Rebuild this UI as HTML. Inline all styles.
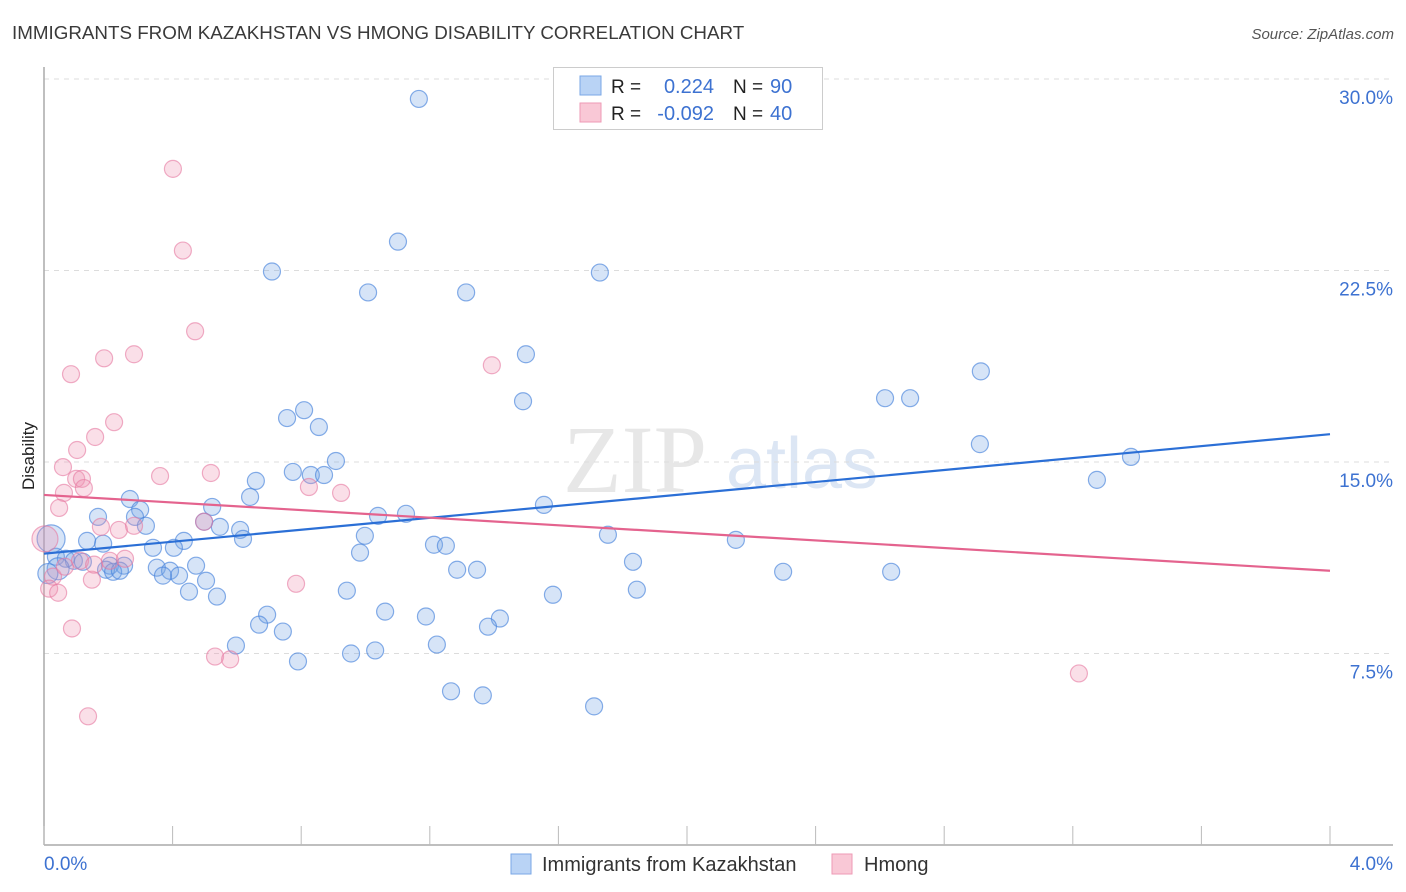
<!DOCTYPE html>
<html><head><meta charset="utf-8"><style>
html,body{margin:0;padding:0;background:#fff;width:1406px;height:892px;overflow:hidden;font-family:"Liberation Sans",sans-serif}
</style></head><body>
<svg id="chart" width="1406" height="892" xmlns="http://www.w3.org/2000/svg" font-family="Liberation Sans, sans-serif">
<text x="12" y="39" font-size="18.8" fill="#3a3a3a">IMMIGRANTS FROM KAZAKHSTAN VS HMONG DISABILITY CORRELATION CHART</text>
<text x="1394" y="39" font-size="15" fill="#555" font-style="italic" text-anchor="end">Source: ZipAtlas.com</text>
<g>
<text x="635" y="492" font-size="96" fill="#d8d8d8" font-family="Liberation Serif, serif" text-anchor="middle" opacity="0.6">ZIP</text>
<text x="802" y="488" font-size="72" fill="#c5d6ee" text-anchor="middle" opacity="0.6">atlas</text>
</g>
<g id="grid"></g>
<g id="axes"></g>
<g id="marks"></g>
<g>
<rect x="553.5" y="67.5" width="269" height="62" fill="#fff" stroke="#ccc"/>
<rect x="580" y="76" width="21" height="19" fill="#b9d3f5" stroke="#7aa7e6"/>
<rect x="580" y="103" width="21" height="19" fill="#f9c8d6" stroke="#ee9ab5"/>
<text x="611" y="93" font-size="19" fill="#222">R =</text>
<text x="714" y="93" font-size="20" fill="#3d72d1" text-anchor="end">0.224</text>
<text x="733" y="93" font-size="19" fill="#222">N =</text>
<text x="770" y="93" font-size="20" fill="#3d72d1">90</text>
<text x="611" y="120" font-size="19" fill="#222">R =</text>
<text x="714" y="120" font-size="20" fill="#3d72d1" text-anchor="end">-0.092</text>
<text x="733" y="120" font-size="19" fill="#222">N =</text>
<text x="770" y="120" font-size="20" fill="#3d72d1">40</text>
</g>
<g>
<rect x="511" y="854" width="20" height="20" fill="#b9d3f5" stroke="#7aa7e6"/>
<text x="542" y="871" font-size="20" fill="#333">Immigrants from Kazakhstan</text>
<rect x="832" y="854" width="20" height="20" fill="#f9c8d6" stroke="#ee9ab5"/>
<text x="864" y="871" font-size="20" fill="#333">Hmong</text>
</g>
<text transform="translate(34,456) rotate(-90)" font-size="17" fill="#222" text-anchor="middle">Disability</text>
</svg>
<script>
const blueX=[1.166,1.101,0.709,1.729,1.008,1.313,1.499,2.914,2.616,2.694,1.490,0.809,0.756,0.855,2.911,3.381,0.908,0.774,0.830,0.871,3.275,0.659,0.641,0.267,1.555,0.523,0.299,0.168,0.283,1.039,1.126,0.498,0.317,0.547,0.610,1.754,0.998,0.619,0.435,0.134,0.184,2.152,1.213,1.250,0.339,0.404,0.983,0.037,0.068,0.093,0.121,0.205,0.249,1.832,0.473,0.351,0.392,1.285,1.347,0.193,0.215,0.236,0.420,0.370,2.299,2.635,0.504,0.942,1.844,1.583,0.451,0.538,1.061,0.694,1.188,1.418,0.669,1.381,0.743,0.597,1.222,0.955,1.030,0.790,1.266,1.365,1.711,0.022,0.044,0.012];
const blueY=[29.22,23.63,22.46,22.42,21.64,21.64,19.22,18.55,17.50,17.50,17.38,17.03,16.72,16.37,15.70,15.20,15.04,14.61,14.49,14.49,14.30,14.26,13.63,13.55,13.32,13.24,13.13,12.85,12.85,12.89,12.97,12.66,12.50,12.46,12.34,12.15,12.11,11.99,11.91,11.91,11.80,11.95,11.76,11.72,11.64,11.64,11.45,11.29,11.21,11.13,11.09,10.94,10.94,11.09,10.94,10.86,10.74,10.78,10.78,10.78,10.70,10.74,10.55,10.55,10.70,10.70,10.35,9.96,10.00,9.80,9.92,9.73,9.14,9.02,8.95,8.87,8.63,8.55,8.36,7.81,7.85,7.50,7.62,7.19,6.02,5.86,5.43,11.99,10.82,10.63];
const blueR=[8.5,8.5,8.5,8.5,8.5,8.5,8.5,8.5,8.5,8.5,8.5,8.5,8.5,8.5,8.5,8.5,8.5,8.5,8.5,8.5,8.5,8.5,8.5,8.5,8.5,8.5,8.5,8.5,8.5,8.5,8.5,8.5,8.5,8.5,8.5,8.5,8.5,8.5,8.5,8.5,8.5,8.5,8.5,8.5,8.5,8.5,8.5,8.5,8.5,8.5,8.5,8.5,8.5,8.5,8.5,8.5,8.5,8.5,8.5,8.5,8.5,8.5,8.5,8.5,8.5,8.5,8.5,8.5,8.5,8.5,8.5,8.5,8.5,8.5,8.5,8.5,8.5,8.5,8.5,8.5,8.5,8.5,8.5,8.5,8.5,8.5,8.5,14,11,10];
const pinkX=[0.401,0.432,0.470,1.393,0.280,0.187,0.084,0.218,0.159,0.103,0.059,0.361,0.519,0.100,0.118,0.124,0.062,0.824,0.924,0.047,0.233,0.280,0.177,0.498,0.003,0.028,0.016,0.044,0.149,0.784,0.087,0.532,0.579,3.219,0.137,0.065,0.112,0.156,0.205,0.252];
const pinkY=[26.48,23.28,20.12,18.79,19.22,19.06,18.44,16.56,15.98,15.47,14.80,14.45,14.57,14.34,14.34,13.98,13.79,14.02,13.79,13.20,12.34,12.50,12.46,12.66,11.99,10.51,10.04,9.88,10.39,10.23,8.48,7.38,7.27,6.72,5.04,10.90,11.13,10.98,11.13,11.21];
const blueTrend=[11.41,16.09];
const pinkTrend=[13.71,10.74];
const yTicks=[7.5,15.0,22.5,30.0];
const yTickLabels=["7.5%","15.0%","22.5%","30.0%"];
const xTicks=[0,0.4,0.8,1.2,1.6,2.0,2.4,2.8,3.2,3.6,4.0];

const NS="http://www.w3.org/2000/svg";
const X0=44,X1=1330,Y0=845,Y30=79;
const xs=v=>X0+(X1-X0)*v/4;
const ys=v=>Y0-(Y0-Y30)*v/30;
function mk(tag,parent,attrs){const e=document.createElementNS(NS,tag);for(const k in attrs)e.setAttribute(k,attrs[k]);parent.appendChild(e);return e;}
const grid=document.getElementById('grid'),axes=document.getElementById('axes'),marks=document.getElementById('marks');
yTicks.forEach((t,i)=>{
  const l=mk('line',grid,{x1:X0,x2:1393,y1:ys(t),y2:ys(t),stroke:'#dcdcdc','stroke-dasharray':'5,5'});
  
  
  const tx=mk('text',axes,{x:1393,y:ys(t)+25,'font-size':19,fill:'#3d72d1','text-anchor':'end'});
  tx.textContent=yTickLabels[i];
  
  
});
const ya=mk('line',axes,{x1:X0,x2:X0,y1:67,y2:Y0,stroke:'#aaa','stroke-width':1.5});


const xa=mk('line',axes,{x1:X0,x2:1393,y1:Y0,y2:Y0,stroke:'#aaa','stroke-width':1.5});


xTicks.forEach(t=>{
  const l=mk('line',axes,{x1:xs(t),x2:xs(t),y1:826,y2:Y0,stroke:'#bbb'});
  
  
});
const xl0=mk('text',axes,{x:44,y:870,'font-size':19,fill:'#3d72d1'});xl0.textContent='0.0%';


const xl1=mk('text',axes,{x:1393,y:870,'font-size':19,fill:'#3d72d1','text-anchor':'end'});xl1.textContent='4.0%';


blueX.forEach((v,i)=>{
  const c=mk('circle',marks,{cx:xs(v),cy:ys(blueY[i]),r:blueR[i],fill:'rgba(120,165,230,0.3)',stroke:'rgba(70,130,220,0.65)','stroke-width':1.2});
  
  
});
pinkX.forEach((v,i)=>{
  const c=mk('circle',marks,{cx:xs(v),cy:ys(pinkY[i]),r:i===24?13:8.5,fill:'rgba(240,150,180,0.3)',stroke:'rgba(230,120,160,0.6)','stroke-width':1.2});
  
  
});
const bt=mk('line',marks,{x1:xs(0),y1:ys(blueTrend[0]),x2:xs(4),y2:ys(blueTrend[1]),stroke:'#2b6fd6','stroke-width':2.2});


const pt=mk('line',marks,{x1:xs(0),y1:ys(pinkTrend[0]),x2:xs(4),y2:ys(pinkTrend[1]),stroke:'#e4638e','stroke-width':2.2});


</script>
</body></html>
